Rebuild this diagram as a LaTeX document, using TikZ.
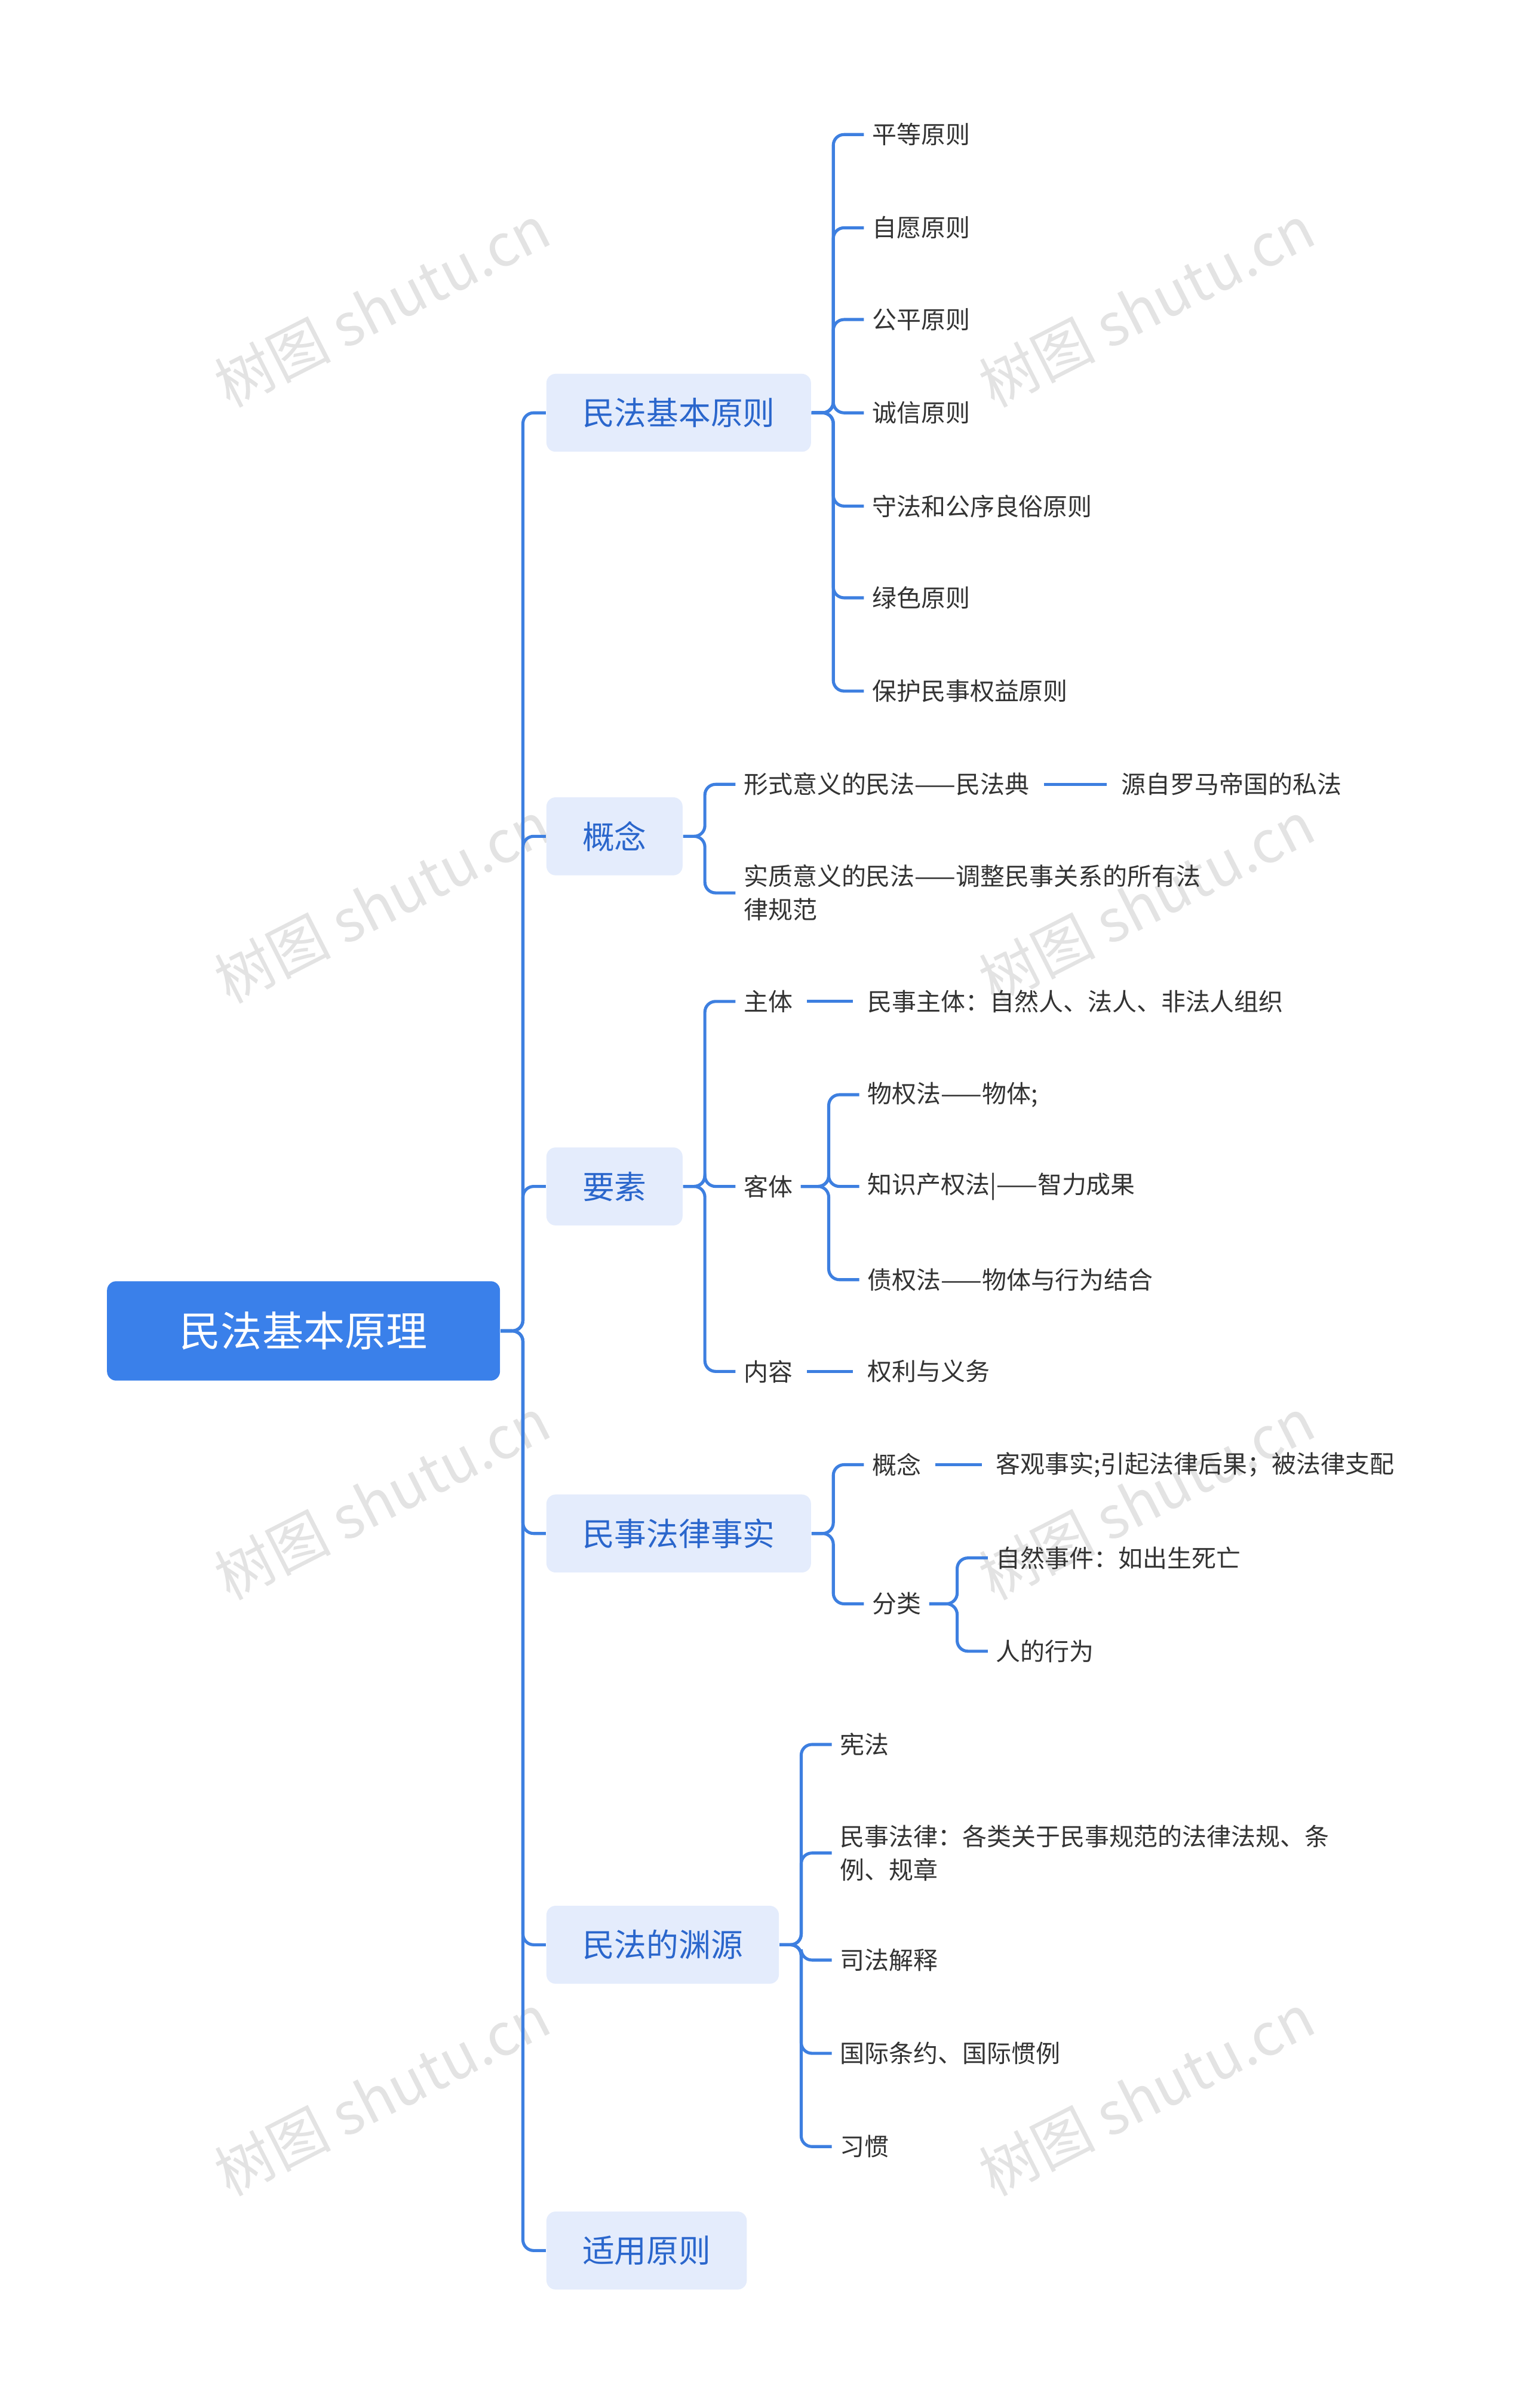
\documentclass[tikz,border=0pt]{standalone}
\usepackage{fontspec}
\setmainfont{Noto Sans CJK SC}
\newfontfamily\wmfont{Noto Sans CJK SC}
\definecolor{lb}{HTML}{3D7FE0}
\definecolor{rootc}{HTML}{3A80EA}
\definecolor{l1fill}{HTML}{E4ECFC}
\definecolor{l1text}{HTML}{2A66CC}
\definecolor{leaft}{HTML}{333333}
\begin{document}
\begin{tikzpicture}[x=0.5pt,y=-0.5pt,
  conn/.style={draw=lb,line width=1pt,rounded corners=3.5pt},
  rootbox/.style={fill=rootc,rounded corners=3pt,text=white,font=\fontsize{13.5}{16}\selectfont,minimum width=128.5pt,minimum height=32.5pt,inner sep=0},
  lone/.style={fill=l1fill,rounded corners=3pt,text=l1text,font=\fontsize{10.5}{13}\selectfont,minimum height=25.5pt,inner sep=0,anchor=west},
  leaf/.style={anchor=west,text=leaft,font=\fontsize{8}{11}\selectfont,inner xsep=2.5pt,inner ysep=1pt},
  wm/.style={text=gray!22,font=\wmfont\fontsize{19}{22}\selectfont,rotate=27}]
\useasboundingbox (0,0) rectangle (1000,1575);
\fill[white] (0,0) rectangle (1000,1575);
\foreach \x in {250,750}{\foreach \y in {200,590,980,1370}{\node[wm] at (\x,\y) {树图 shutu.cn};}}
% root
\node[rootbox] (root) at (198.5,870.5) {民法基本原理};
% level 1
\node[lone,minimum width=86.5pt] (a) at (357,270) {民法基本原则};
\node[lone,minimum width=44.5pt] (b) at (357,547) {概念};
\node[lone,minimum width=44.5pt] (c) at (357,776) {要素};
\node[lone,minimum width=86.5pt] (d) at (357,1003) {民事法律事实};
\node[lone,minimum width=76pt] (e) at (357,1272) {民法的渊源};
\node[lone,minimum width=65.5pt] (f) at (357,1472) {适用原则};
\foreach \n in {a,b,c,d,e,f}{\draw[conn] (root.east) -- (342,870.5) |- (\n.west);}
% a children
\foreach \t/\y [count=\i] in {平等原则/88,自愿原则/149,公平原则/209,诚信原则/270,守法和公序良俗原则/331,绿色原则/391,保护民事权益原则/452}{
  \node[leaf] (a\i) at (565,\y) {\t};
  \draw[conn] (a.east) -- (545,270) |- (a\i.west);}
% b children
\node[leaf] (b1) at (481,513) {形式意义的民法——民法典};
\node[leaf,align=left] (b2) at (481,584) {实质意义的民法——调整民事关系的所有法\\律规范};
\foreach \n in {b1,b2}{\draw[conn] (b.east) -- (461,547) |- (\n.west);}
\node[leaf] (b11) at (728,513) {源自罗马帝国的私法};
\draw[conn] (b1.east) ++(4,0) -- ([xshift=-2pt]b11.west);
% c children
\node[leaf] (c1) at (481,655) {主体};
\node[leaf] (c2) at (481,776) {客体};
\node[leaf] (c3) at (481,897) {内容};
\foreach \n in {c1,c2,c3}{\draw[conn] (c.east) -- (461,776) |- (\n.west);}
\node[leaf] (c11) at (562,655) {民事主体：自然人、法人、非法人组织};
\draw[conn] (c1.east) ++(4,0) -- ([xshift=-2pt]c11.west);
\node[leaf] (c31) at (562,897) {权利与义务};
\draw[conn] (c3.east) ++(4,0) -- ([xshift=-2pt]c31.west);
\foreach \t/\y [count=\i] in {物权法——物体;/716,知识产权法|——智力成果/776,债权法——物体与行为结合/837}{
  \node[leaf] (c2\i) at (562,\y) {\t};
  \draw[conn] (c2.east) -- (542,776) |- (c2\i.west);}
% d children
\node[leaf] (d1) at (565,958) {概念};
\node[leaf] (d2) at (565,1049) {分类};
\foreach \n in {d1,d2}{\draw[conn] (d.east) -- (545,1003) |- (\n.west);}
\node[leaf] (d11) at (646,958) {客观事实;引起法律后果；被法律支配};
\draw[conn] (d1.east) ++(4,0) -- ([xshift=-2pt]d11.west);
\node[leaf] (d21) at (646,1019) {自然事件：如出生死亡};
\node[leaf] (d22) at (646,1080) {人的行为};
\foreach \n in {d21,d22}{\draw[conn] (d2.east) -- (626,1049) |- (\n.west);}
% e children
\node[leaf] (e1) at (544,1141) {宪法};
\node[leaf,align=left] (e2) at (544,1212) {民事法律：各类关于民事规范的法律法规、条\\例、规章};
\node[leaf] (e3) at (544,1282) {司法解释};
\node[leaf] (e4) at (544,1343) {国际条约、国际惯例};
\node[leaf] (e5) at (544,1404) {习惯};
\foreach \n in {e1,e2,e3,e4,e5}{\draw[conn] (e.east) -- (524,1272) |- (\n.west);}
\end{tikzpicture}
\end{document}
